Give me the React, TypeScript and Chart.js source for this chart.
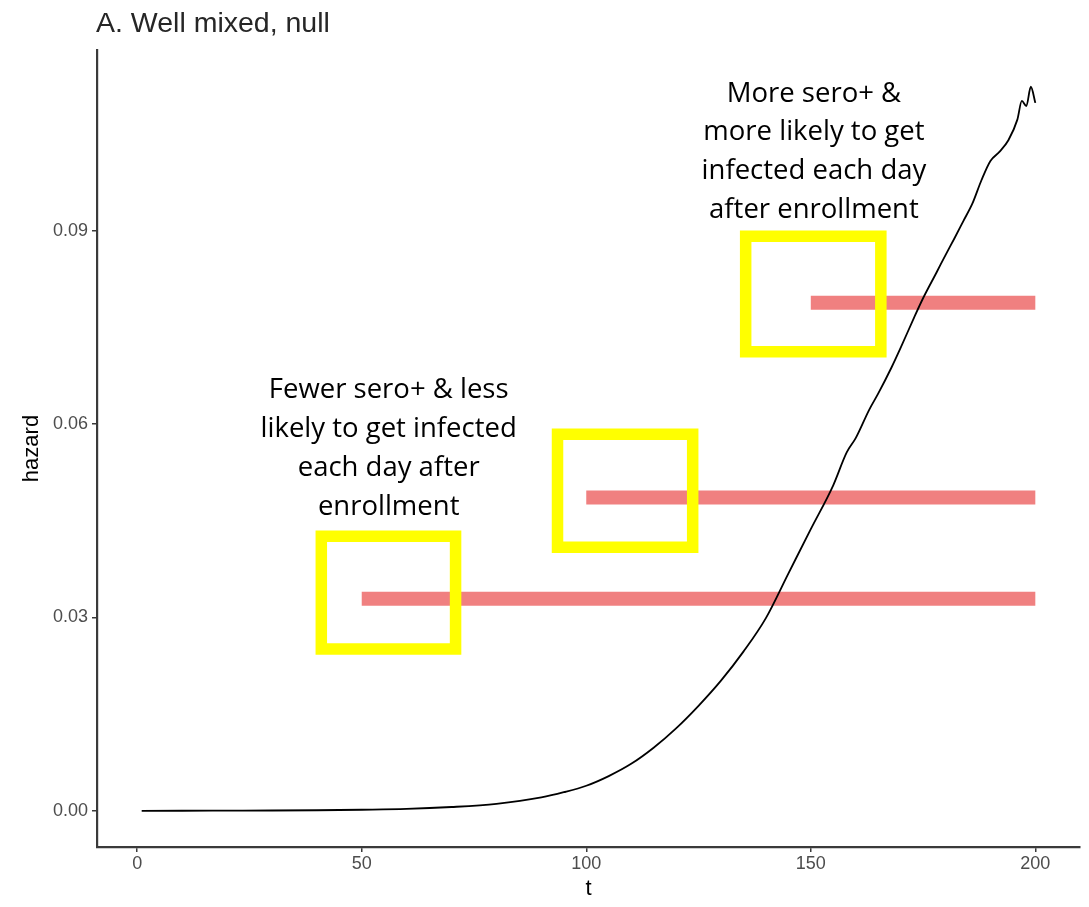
import React, { useEffect, useRef } from "react";
import { Chart, registerables } from "chart.js";

Chart.register(...registerables);

const titleText = "A. Well mixed, null";
const xTitle = "t";
const yTitle = "hazard";

const xTicks = [0, 50, 100, 150, 200];
const yTicks = [0, 0.03, 0.06, 0.09];
const xRange = [-8.95, 209.95];
const yRange = [-0.0056, 0.118];

const curveT = [1, 10, 20, 30, 40, 50, 60, 70, 80, 90, 95, 100, 105, 110, 115, 120, 125, 130, 135, 140, 145, 150, 155, 158, 160, 163, 165, 168, 170, 173, 175, 178, 180, 182, 184, 186, 188, 190, 192, 194, 196, 197, 198, 199, 200];
const hazard = [0.00001, 0.00002, 0.00004, 0.00006, 0.0001, 0.00018, 0.0003, 0.0006, 0.0011, 0.0021, 0.0029, 0.0039, 0.0054, 0.0073, 0.0098, 0.0128, 0.0163, 0.0202, 0.0247, 0.0299, 0.0368, 0.0437, 0.0505, 0.0556, 0.0578, 0.0622, 0.0647, 0.0688, 0.0718, 0.0765, 0.0795, 0.0835, 0.0862, 0.0888, 0.0915, 0.0942, 0.0978, 0.1008, 0.1022, 0.1040, 0.1072, 0.1101, 0.1093, 0.1123, 0.1098];

const segStart = [50, 100, 150];
const segEnd = [200, 200, 200];
const segLevel = [0.0329, 0.0486, 0.0788];

const boxLeft = [41.0, 93.6, 135.5];
const boxRight = [70.9, 123.7, 165.6];
const boxTop = [0.0426, 0.0584, 0.0891];
const boxBottom = [0.0251, 0.0409, 0.0712];

const noteX = [56.0, 150.7];
const noteY = [0.0652, 0.1112];
const noteLines = [
  ["Fewer sero+ & less", "likely to get infected", "each day after", "enrollment"],
  ["More sero+ &", "more likely to get", "infected each day", "after enrollment"],
];

const RED = "#F08080";
const YELLOW = "#FFFF00";
const AXIS = "#3a3a3a";

export default function App() {
  const ref = useRef<HTMLCanvasElement | null>(null);

  useEffect(() => {
    if (!ref.current) return;

    const datasets: any[] = [];
    segStart.forEach((s, i) => {
      datasets.push({
        data: [{ x: s, y: segLevel[i] }, { x: segEnd[i], y: segLevel[i] }],
        borderColor: RED,
        borderWidth: 14,
        borderCapStyle: "butt",
        pointRadius: 0,
        order: 3,
      });
    });
    boxLeft.forEach((l, i) => {
      datasets.push({
        data: [
          { x: l, y: boxTop[i] },
          { x: boxRight[i], y: boxTop[i] },
          { x: boxRight[i], y: boxBottom[i] },
          { x: l, y: boxBottom[i] },
          { x: l, y: boxTop[i] },
          { x: boxRight[i], y: boxTop[i] },
        ],
        borderColor: YELLOW,
        borderWidth: 11.5,
        borderJoinStyle: "miter",
        borderCapStyle: "butt",
        pointRadius: 0,
        order: 2,
      });
    });
    datasets.push({
      data: curveT.map((t, i) => ({ x: t, y: hazard[i] })),
      borderColor: "#000000",
      borderWidth: 1.8,
      pointRadius: 0,
      cubicInterpolationMode: "monotone",
      order: 1,
    });

    const overlay = {
      id: "overlay",
      afterDatasetsDraw(chart: any) {
        const ctx = chart.ctx;
        const xs = chart.scales.x;
        const ys = chart.scales.y;
        ctx.save();
        ctx.fillStyle = "#000000";
        ctx.font = "27.5px 'Open Sans'";
        ctx.textAlign = "center";
        ctx.textBaseline = "middle";
        noteLines.forEach((lines, i) => {
          const cx = xs.getPixelForValue(noteX[i]);
          const cy = ys.getPixelForValue(noteY[i]);
          lines.forEach((ln, j) => ctx.fillText(ln, cx, cy + j * 38.8));
        });
        ctx.restore();
      },
      afterDraw(chart: any) {
        const ctx = chart.ctx;
        ctx.save();
        ctx.fillStyle = "#262626";
        ctx.font = "28.5px 'Liberation Sans'";
        ctx.textAlign = "left";
        ctx.textBaseline = "alphabetic";
        ctx.fillText(titleText, chart.chartArea.left - 1, 32);
        ctx.restore();
      },
    };

    const chart = new Chart(ref.current, {
      type: "line",
      data: { datasets },
      options: {
        animation: false,
        responsive: false,
        layout: { padding: { top: 50, right: 9, left: 0, bottom: 0 } },
        plugins: { legend: { display: false }, tooltip: { enabled: false }, title: { display: false } },
        scales: {
          x: {
            type: "linear",
            min: xRange[0],
            max: xRange[1],
            afterBuildTicks: (s: any) => {
              s.ticks = xTicks.map((v) => ({ value: v }));
            },
            afterFit: (s: any) => {
              s.height = 60;
            },
            grid: { display: true, drawOnChartArea: false, drawTicks: true, tickLength: 5, color: AXIS, lineWidth: 1.5 },
            border: { display: true, color: AXIS, width: 2.2 },
            ticks: { color: "#4D4D4D", font: { family: "'Liberation Sans'", size: 18 }, padding: 1, maxRotation: 0, callback: (v: any) => String(v) },
            title: { display: true, text: xTitle, color: "#000000", font: { family: "'Liberation Sans'", size: 22 }, padding: { top: 0, bottom: 5 } },
          },
          y: {
            type: "linear",
            min: yRange[0],
            max: yRange[1],
            afterBuildTicks: (s: any) => {
              s.ticks = yTicks.map((v) => ({ value: v }));
            },
            afterFit: (s: any) => {
              s.width = 97;
            },
            grid: { display: true, drawOnChartArea: false, drawTicks: true, tickLength: 5, color: AXIS, lineWidth: 1.5 },
            border: { display: true, color: AXIS, width: 2.2 },
            ticks: { color: "#4D4D4D", font: { family: "'Liberation Sans'", size: 18 }, padding: 4, callback: (v: any) => Number(v).toFixed(2) },
            title: { display: true, text: yTitle, color: "#000000", font: { family: "'Liberation Sans'", size: 22 }, padding: { top: 19, bottom: 0 } },
          },
        },
      },
      plugins: [overlay],
    });
    return () => chart.destroy();
  }, []);

  return (
    <div style={{ position: "absolute", left: 0, top: 0, width: 1089, height: 907, background: "#ffffff" }}>
      <canvas ref={ref} width={1089} height={907} style={{ display: "block", width: 1089, height: 907 }} />
    </div>
  );
}
